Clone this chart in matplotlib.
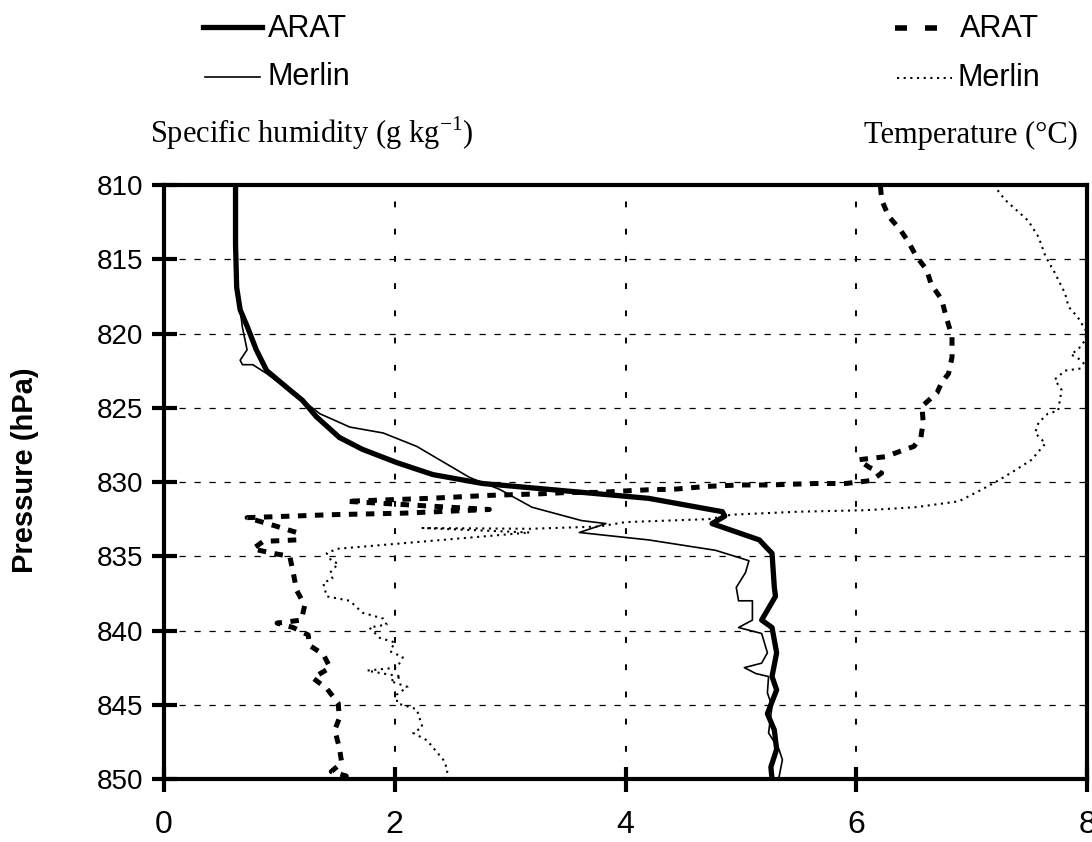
import matplotlib
matplotlib.use("Agg")
import matplotlib.pyplot as plt
from matplotlib.lines import Line2D

plt.rcParams['font.family'] = ['Liberation Sans', 'DejaVu Sans']
plt.rcParams['mathtext.fontset'] = 'custom'
plt.rcParams['mathtext.rm'] = 'Liberation Serif'

# specific humidity, ARAT (g/kg) vs pressure (hPa)
arat_q_p = [810, 814, 816.9, 818.4, 819.5, 821.1, 822.5, 823.8, 824.5, 825.6,
            827.0, 827.8, 828.7, 829.5, 830.1, 830.5, 831.1, 832.0, 832.3, 832.8,
            833.9, 834.4, 834.8, 837.1, 837.7, 839.3, 839.8, 841.5, 843.1, 844.0,
            845.6, 846.7, 848.0, 849.2, 850]
arat_q = [0.62, 0.62, 0.63, 0.66, 0.72, 0.80, 0.89, 1.09, 1.20, 1.32,
          1.52, 1.72, 2.02, 2.33, 2.76, 3.34, 4.20, 4.84, 4.86, 4.75,
          5.16, 5.22, 5.27, 5.29, 5.30, 5.18, 5.27, 5.31, 5.27, 5.31,
          5.23, 5.29, 5.31, 5.26, 5.27]

# specific humidity, Merlin
merlin_q_p = [810, 816.9, 818.4, 819.6, 821.1, 821.8, 822.1, 822.1, 822.7, 824.0,
              825.4, 826.3, 826.7, 827.6, 829.7, 830.5, 831.7, 832.6, 832.8, 833.4,
              833.9, 834.6, 835.3, 836.1, 837.1, 838.0, 838.0, 839.3, 839.8, 840.2,
              841.5, 842.2, 842.5, 842.9, 843.1, 844.2, 845.1, 846.9, 848.0, 848.7,
              849.9, 850]
merlin_q = [0.62, 0.63, 0.66, 0.68, 0.72, 0.66, 0.68, 0.77, 0.89, 1.12,
            1.35, 1.61, 1.90, 2.19, 2.65, 2.91, 3.19, 3.62, 3.83, 3.60,
            4.20, 4.78, 5.07, 5.04, 4.96, 4.98, 5.10, 5.10, 4.98, 5.18,
            5.23, 5.18, 5.03, 5.13, 5.24, 5.23, 5.27, 5.24, 5.33, 5.36,
            5.33, 5.27]

# temperature, ARAT (deg C)
arat_t_p = [810.1, 811.0, 812.1, 813.0, 813.8, 814.8, 815.7, 816.7, 817.7, 818.9,
            820.2, 821.6, 822.7, 823.3, 824.0, 824.9, 826.0, 827.0, 827.6, 828.3,
            828.5, 829.0, 829.4, 829.9, 830.1, 830.1, 830.2, 830.2, 830.3, 830.5,
            830.5, 830.6, 830.7, 830.7, 830.8, 830.9, 831.1, 831.3, 831.85, 832.1,
            832.2, 832.4, 832.9, 833.4, 833.9, 834.0, 834.5, 834.8, 835.0, 836.1,
            837.3, 838.3, 839.3, 839.5, 839.8, 840.3, 841.0, 841.6, 842.5, 843.2,
            843.9, 844.9, 845.9, 846.7, 847.9, 848.9, 849.5, 849.8, 850]
arat_t = [6.21, 6.22, 6.28, 6.38, 6.45, 6.52, 6.61, 6.65, 6.74, 6.78,
          6.83, 6.83, 6.80, 6.74, 6.70, 6.57, 6.58, 6.56, 6.50, 6.25,
          6.02, 6.11, 6.22, 6.13, 5.91, 5.65, 5.24, 4.98, 4.70, 4.40,
          4.26, 4.00, 3.77, 3.51, 3.25, 2.82, 2.30, 1.58, 2.82, 2.07,
          1.46, 0.72, 0.94, 1.15, 1.15, 0.86, 0.77, 0.94, 1.09, 1.12,
          1.15, 1.22, 1.19, 0.98, 1.12, 1.25, 1.26, 1.38, 1.44, 1.29,
          1.41, 1.51, 1.52, 1.48, 1.52, 1.54, 1.45, 1.58, 1.51]

# temperature, Merlin
merlin_t_p = [810.0, 811.0, 812.4, 813.5, 814.8, 815.9, 817.3, 818.2, 818.9, 819.8,
              820.4, 821.1, 821.4, 821.8, 822.3, 822.5, 823.1, 823.8, 825.2, 825.4,
              826.0, 826.7, 827.4, 828.5, 829.2, 829.9, 830.5, 831.3, 831.7, 831.9,
              832.0, 832.2, 832.5, 832.7, 833.0, 833.15, 833.1, 833.4, 834.5, 834.8,
              835.3, 835.5, 836.1, 836.5, 836.8, 837.7, 838.0, 838.8, 839.2, 839.6,
              839.8, 840.5, 840.8, 841.4, 841.8, 842.5, 842.7, 842.9, 843.1, 843.4,
              843.8, 844.3, 844.9, 845.3, 846.5, 846.9, 847.4, 848.7, 849.4, 850.0]
merlin_t = [7.19, 7.29, 7.49, 7.58, 7.64, 7.72, 7.81, 7.84, 7.92, 7.99,
            7.99, 7.92, 7.86, 7.95, 8.00, 7.81, 7.72, 7.78, 7.75, 7.66,
            7.58, 7.55, 7.64, 7.52, 7.38, 7.23, 7.09, 6.89, 6.51, 6.08,
            5.50, 4.92, 4.72, 4.00, 3.77, 3.17, 2.24, 3.17, 1.50, 1.41,
            1.45, 1.51, 1.44, 1.46, 1.38, 1.41, 1.61, 1.72, 1.90, 1.93,
            1.78, 1.87, 2.00, 1.96, 2.07, 2.02, 1.76, 1.90, 2.06, 1.96,
            2.11, 2.02, 2.02, 2.19, 2.24, 2.16, 2.28, 2.42, 2.46, 2.43]

x_ticks = [0, 2, 4, 6, 8]
p_ticks = [810, 815, 820, 825, 830, 835, 840, 845, 850]

W, H = 1092, 842
fig = plt.figure(figsize=(W / 100, H / 100), dpi=100)
ax = fig.add_axes([164 / W, 1 - 779 / H, (1087 - 164) / W, (779 - 185) / H])

ax.plot(arat_q, arat_q_p, color='k', lw=3.8, solid_joinstyle='round', zorder=4)
ax.plot(merlin_q, merlin_q_p, color='k', lw=1.2, zorder=4)
ax.plot(arat_t, arat_t_p, color='k', lw=3.6, linestyle=(0, (1.7, 1.7)), zorder=4)
ax.plot(merlin_t, merlin_t_p, color='k', lw=1.5, linestyle=(0, (1, 2.2)), zorder=4)

ax.set_xlim(0, 8)
ax.set_ylim(850, 810)
ax.set_xticks(x_ticks)
ax.set_yticks(p_ticks)
ax.yaxis.grid(True, color='k', lw=0.9, linestyle=(0, (5, 7)))
ax.xaxis.grid(True, color='k', lw=1.4, linestyle=(0, (3, 11)))
ax.set_axisbelow(True)
for s in ax.spines.values():
    s.set_linewidth(3)
ax.tick_params(direction='inout', length=18, width=3)
ax.tick_params(axis='x', labelsize=23, pad=13)
ax.tick_params(axis='y', labelsize=20, pad=6)

fig.text(25 / W, 1 - 470 / H, 'Pressure (hPa)', rotation=90, fontsize=21,
         fontweight='bold', ha='center', va='center')

serif = ['Liberation Serif', 'DejaVu Serif']
fig.text(150 / W, 1 - 143 / H, 'Specific humidity (g kg$^{\\mathregular{-1}}$)',
         family=serif, fontsize=22, va='baseline')
fig.text(1078 / W, 1 - 143 / H, 'Temperature (\u00b0C)', family=serif,
         fontsize=22, ha='right', va='baseline')

# legend keys, drawn in figure pixels
def key(x0, x1, y, **kw):
    fig.add_artist(Line2D([x0 / W, x1 / W], [1 - y / H, 1 - y / H],
                          transform=fig.transFigure, color='k', **kw))

key(203, 262, 27, lw=3.8)
key(205, 260, 77, lw=1.2)
key(895, 937, 28, lw=4, linestyle=(0, (2.16, 3.24)), solid_capstyle='butt')
key(897, 952, 78, lw=1.5, linestyle=(0, (1, 2.2)))
fig.text(268 / W, 1 - 29 / H, 'ARAT', fontsize=22, va='center')
fig.text(268 / W, 1 - 77 / H, 'Merlin', fontsize=22, va='center')
fig.text(960 / W, 1 - 29 / H, 'ARAT', fontsize=22, va='center')
fig.text(957 / W, 1 - 78 / H, 'Merlin', fontsize=22, va='center')

fig.savefig('out.png', dpi=100)
